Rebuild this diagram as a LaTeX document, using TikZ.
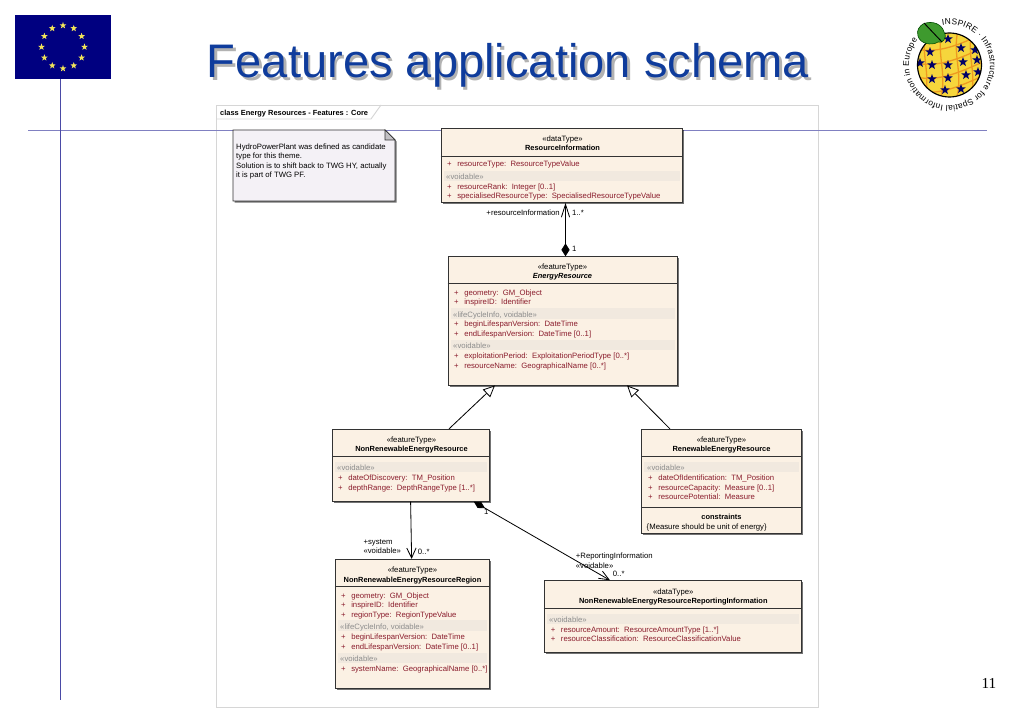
\documentclass[tikz,border=0pt]{standalone}
\usepackage{fontspec}
\setmainfont{Liberation Sans}
\newfontfamily\pagefont{Liberation Serif}
\usetikzlibrary{arrows.meta, calc, fit, shadows, shapes.geometric, decorations.text}

\definecolor{flagblue}{HTML}{000080}
\definecolor{flagstar}{HTML}{F0E35A}
\definecolor{ruleblue}{HTML}{4A4AA6}
\definecolor{titleblue}{HTML}{0F3C9C}
\definecolor{framegray}{HTML}{D6D6D6}
\definecolor{boxfill}{HTML}{FBF1E4}
\definecolor{bandfill}{HTML}{F1E9DF}
\definecolor{notefill}{HTML}{F4F1F6}
\definecolor{attrred}{HTML}{8A1C2C}
\definecolor{tagside}{HTML}{8C8C8C}
\definecolor{globeyellow}{HTML}{F6D63C}
\definecolor{globeorange}{HTML}{EE9A20}
\definecolor{leafgreen}{HTML}{3E9A2E}

\newcommand{\plusgap}{+\hspace{4.7pt}}

\tikzset{
    umltext/.style={font=\fontsize{6.6}{8.1}\selectfont, inner sep=0pt},
    classbox/.style={draw=black!80, fill=boxfill, line width=0.7pt, inner sep=0pt,
        drop shadow={shadow xshift=1.3pt, shadow yshift=-1.3pt, fill=black, opacity=.55}},
    stereo/.style={umltext, anchor=mid},
    classname/.style={umltext, anchor=mid, font=\fontsize{6.35}{8.1}\selectfont\bfseries},
    attr/.style={umltext, anchor=mid west, text=attrred},
    tagline/.style={umltext, anchor=mid west, text=tagside},
    band/.style={fill=bandfill},
    assoclabel/.style={umltext, anchor=mid west},
    assoc/.style={line width=0.7pt},
    eustar/.style={star, star points=5, star point ratio=2.4, inner sep=0pt, minimum size=6pt, fill=flagstar},
    globestar/.style={star, star points=5, star point ratio=2.4, inner sep=0pt, minimum size=8.5pt, fill=flagblue!80!black}
}

\begin{document}
\begin{tikzpicture}[x=0.03cm, y=-0.03cm]
    \useasboundingbox (0,0) rectangle (1023,708);

    % frame and slide furniture
    \draw[framegray, line width=0.8pt] (216,105) rectangle (818,707);
    \draw[framegray, line width=0.8pt] (216,119) -- (371,119) -- (381,105);
    \node[umltext, anchor=mid west, font=\fontsize{6.35}{8}\selectfont\bfseries] (frametitle) at (220,112.5) {class Energy Resources - Features : Core};

    \node[fill=flagblue, inner sep=0pt, fit={(15,15) (111,79)}] (flag) {};
    \foreach \a in {0,30,...,330}
        \node[eustar] (flagstar\a) at ($(63,47)+(\a:21.5)$) {};
    \coordinate (ruleleft) at (28,130.5);
    \coordinate (ruleright) at (987,130.5);
    \coordinate (rulebottom) at (60.5,700);
    \draw[ruleblue!70, line width=1.2pt] (ruleleft) -- (ruleright);
    \draw[ruleblue, line width=1.6pt] (flag.south -| rulebottom) -- (rulebottom);

    \node[anchor=base, text=black!30, font=\fontsize{40.2}{48}\selectfont] (titleshadow) at (510.5,80.5) {Features application schema};
    \node[anchor=base, text=titleblue, font=\fontsize{40.2}{48}\selectfont] (title) at (508,78) {Features application schema};
    \node[anchor=base, font=\pagefont\fontsize{13}{15}\selectfont] (pagenum) at (989,688) {11};

    % logo
    \begin{scope}
        \clip (949.5,65) circle[radius=32];
        \fill[globeyellow] (949.5,65) circle[radius=32];
        \foreach \y in {42,56,70,84}
            \draw[globeorange, line width=1.1pt] (915,\y+7) .. controls (940,\y+12) and (960,\y+2) .. (985,\y-9);
        \foreach \x in {926,942,958,972}
            \draw[globeorange, line width=1.1pt] (\x,30) .. controls (\x-6,55) and (\x+6,75) .. (\x-2,100);
        \foreach \p [count=\i] in {(930,52),(948,39),(961,48),(975,50),(932,65),(948,65),(963,62),(977,60),(920,63),(932,79),(948,78),(966,75),(978,72),(945,90),(961,89)}
            \node[globestar] (globestar\i) at \p {};
    \end{scope}
    \draw[black, line width=1pt] (949.5,65) circle[radius=32];
    \draw[black!70!green, fill=leafgreen, line width=0.5pt] (923,24) .. controls (932,20) and (942,24) .. (944,32)
        .. controls (948,38) and (942,44) .. (938,42) .. controls (932,46) and (920,44) .. (918,36)
        .. controls (916,30) and (920,26) .. (923,24) -- cycle;
    \draw[black, line width=0.8pt] (924,23) -- (942,42);
    \begin{scope}[shift={(949.5,65)}, x=0.03cm, y=0.03cm]
        \path[decorate, decoration={text along path, text align={fit to path},
            text={|\fontsize{7.2}{9}\selectfont|INSPIRE · Infrastructure for Spatial Information in Europe}}]
            (100:40.5) arc[start angle=100, end angle=-218, radius=40.5];
    \end{scope}

    % note
    \draw[black!80, fill=notefill, line width=0.7pt, drop shadow={shadow xshift=1.3pt, shadow yshift=-1.3pt, fill=black, opacity=.55}]
        (233,130) -- (385,130) -- (395,140) -- (395,201) -- (233,201) -- cycle;
    \draw[black!80, fill=black!20!notefill, line width=0.6pt] (385,130) -- (385,140) -- (395,140) -- cycle;
    \node[umltext, anchor=north west, align=left] (notetext) at (236,143.2) {HydroPowerPlant was defined as candidate\\type for this theme.\\Solution is to shift back to TWG HY, actually\\it is part of TWG PF.};

    % ResourceInformation
    \node[classbox, fit={(441,128) (682,202.5)}] (resinfo) {};
    \draw[black!80] (resinfo.west |- 0,156) -- (resinfo.east |- 0,156);
    \fill[band] (444,171) rectangle (680,181);
    \node[stereo] (resinfostereo) at (562.5,138) {«dataType»};
    \node[classname] (resinfoname) at (562.5,147.7) {ResourceInformation};
    \node[attr] (resinfo1) at (447,163.7) {\plusgap resourceType:\ \ ResourceTypeValue};
    \node[tagline] (resinfotag) at (446,176) {«voidable»};
    \node[attr] (resinfo2) at (447,186) {\plusgap resourceRank:\ \ Integer [0..1]};
    \node[attr] (resinfo3) at (447,195.7) {\plusgap specialisedResourceType:\ \ SpecialisedResourceTypeValue};

    % EnergyResource
    \node[classbox, fit={(448,256.7) (677,385)}] (energy) {};
    \draw[black!80] (energy.west |- 0,283.3) -- (energy.east |- 0,283.3);
    \fill[band] (451,308.5) rectangle (675,319);
    \fill[band] (451,340.5) rectangle (675,350.5);
    \node[stereo] (energystereo) at (562.5,266.3) {«featureType»};
    \node[classname, font=\fontsize{6.35}{8.1}\selectfont\bfseries\itshape] (energyname) at (562.5,275.3) {EnergyResource};
    \node[attr] (energy1) at (454,292) {\plusgap geometry:\ \ GM\_Object};
    \node[attr] (energy2) at (454,301.7) {\plusgap inspireID:\ \ Identifier};
    \node[tagline] (energytag1) at (453,314) {«lifeCycleInfo, voidable»};
    \node[attr] (energy3) at (454,323.3) {\plusgap beginLifespanVersion:\ \ DateTime};
    \node[attr] (energy4) at (454,333) {\plusgap endLifespanVersion:\ \ DateTime [0..1]};
    \node[tagline] (energytag2) at (453,345.7) {«voidable»};
    \node[attr] (energy5) at (454,355.3) {\plusgap exploitationPeriod:\ \ ExploitationPeriodType [0..*]};
    \node[attr] (energy6) at (454,365) {\plusgap resourceName:\ \ GeographicalName [0..*]};

    % NonRenewableEnergyResource
    \node[classbox, fit={(332.3,429.3) (489.3,501.3)}] (nonren) {};
    \draw[black!80] (nonren.west |- 0,456.3) -- (nonren.east |- 0,456.3);
    \fill[band] (335,461.7) rectangle (487,471.5);
    \node[stereo] (nonrenstereo) at (411.5,439.3) {«featureType»};
    \node[classname] (nonrenname) at (411.5,448.7) {NonRenewableEnergyResource};
    \node[tagline] (nonrentag) at (337,467.7) {«voidable»};
    \node[attr] (nonren1) at (338,477.7) {\plusgap dateOfDiscovery:\ \ TM\_Position};
    \node[attr] (nonren2) at (338,487.3) {\plusgap depthRange:\ \ DepthRangeType [1..*]};

    % RenewableEnergyResource
    \node[classbox, fit={(641.3,429.3) (801.3,533.3)}] (renew) {};
    \draw[black!80] (renew.west |- 0,456.3) -- (renew.east |- 0,456.3);
    \draw[black!80] (renew.west |- 0,507.3) -- (renew.east |- 0,507.3);
    \fill[band] (644,461.5) rectangle (799,471.5);
    \node[stereo] (renewstereo) at (721.5,439.3) {«featureType»};
    \node[classname] (renewname) at (721.5,448.7) {RenewableEnergyResource};
    \node[tagline] (renewtag) at (647,467.7) {«voidable»};
    \node[attr] (renew1) at (648,477.3) {\plusgap dateOfIdentification:\ \ TM\_Position};
    \node[attr] (renew2) at (648,487) {\plusgap resourceCapacity:\ \ Measure [0..1]};
    \node[attr] (renew3) at (648,496.5) {\plusgap resourcePotential:\ \ Measure};
    \node[classname] (renewcons) at (721.5,516.3) {constraints};
    \node[umltext, anchor=mid west] (renewrule) at (646.5,526.3) {\{Measure should be unit of energy\}};

    % NonRenewableEnergyResourceRegion
    \node[classbox, fit={(335.3,559.3) (489.3,688)}] (region) {};
    \draw[black!80] (region.west |- 0,586.3) -- (region.east |- 0,586.3);
    \fill[band] (338,620) rectangle (487,630.5);
    \fill[band] (338,652.5) rectangle (487,662.5);
    \node[stereo] (regionstereo) at (412.5,569.3) {«featureType»};
    \node[classname] (regionname) at (412.5,579) {NonRenewableEnergyResourceRegion};
    \node[attr] (region1) at (341,595) {\plusgap geometry:\ \ GM\_Object};
    \node[attr] (region2) at (341,604.7) {\plusgap inspireID:\ \ Identifier};
    \node[attr] (region3) at (341,614.3) {\plusgap regionType:\ \ RegionTypeValue};
    \node[tagline] (regiontag1) at (340,626.7) {«lifeCycleInfo, voidable»};
    \node[attr] (region4) at (341,636.3) {\plusgap beginLifespanVersion:\ \ DateTime};
    \node[attr] (region5) at (341,646) {\plusgap endLifespanVersion:\ \ DateTime [0..1]};
    \node[tagline] (regiontag2) at (340,658.3) {«voidable»};
    \node[attr] (region6) at (341,668) {\plusgap systemName:\ \ GeographicalName [0..*]};

    % NonRenewableEnergyResourceReportingInformation
    \node[classbox, fit={(544,580.7) (801.7,652.3)}] (report) {};
    \draw[black!80] (report.west |- 0,608.3) -- (report.east |- 0,608.3);
    \fill[band] (547,614) rectangle (799,623.8);
    \node[stereo] (reportstereo) at (673.3,591) {«dataType»};
    \node[classname] (reportname) at (673.3,600.3) {NonRenewableEnergyResourceReportingInformation};
    \node[tagline] (reporttag) at (549,619.3) {«voidable»};
    \node[attr] (report1) at (550.7,629) {\plusgap resourceAmount:\ \ ResourceAmountType [1..*]};
    \node[attr] (report2) at (550.7,638.7) {\plusgap resourceClassification:\ \ ResourceClassificationValue};

    % connectors
    \draw[assoc, {Straight Barb[length=11pt, width=7pt]}-{Diamond[length=11pt, width=7pt]}] ([xshift=.12cm]resinfo.south) -- ([xshift=.09cm]energy.north);
    \draw[assoc, -{Triangle[open, fill=white, length=10pt, width=9pt]}] ([xshift=1.146cm]nonren.north) -- ([xshift=-2.025cm]energy.south);
    \draw[assoc, -{Triangle[open, fill=white, length=10pt, width=9pt]}] ([xshift=-1.54cm]renew.north) -- ([xshift=1.935cm]energy.south);
    \draw[assoc, -{Straight Barb[length=8.5pt, width=8pt]}] ([xshift=-.006cm]nonren.south) -- ([xshift=-.02cm]region.north);
    \draw[assoc, {Diamond[length=11pt, width=6pt]}-{Straight Barb[length=8.5pt, width=7pt]}] ([xshift=1.89cm]nonren.south) -- ([xshift=-1.885cm]report.north);

    \node[umltext, anchor=mid east] (reslabel) at (560,212) {+resourceInformation};
    \node[assoclabel] (resmult) at (572,212) {1..*};
    \node[assoclabel] (energymult) at (572,248) {1};
    \node[assoclabel] (sysrole) at (363.3,541) {+system};
    \node[assoclabel] (systag) at (363.3,550.3) {«voidable»};
    \node[assoclabel] (sysmult) at (417.7,551.7) {0..*};
    \node[assoclabel] (nonrenmult) at (484,511.7) {1};
    \node[assoclabel] (reprole) at (575.7,555.3) {+ReportingInformation};
    \node[assoclabel] (reptag) at (575.7,565) {«voidable»};
    \node[assoclabel] (repmult) at (612.7,573.7) {0..*};
\end{tikzpicture}
\end{document}
